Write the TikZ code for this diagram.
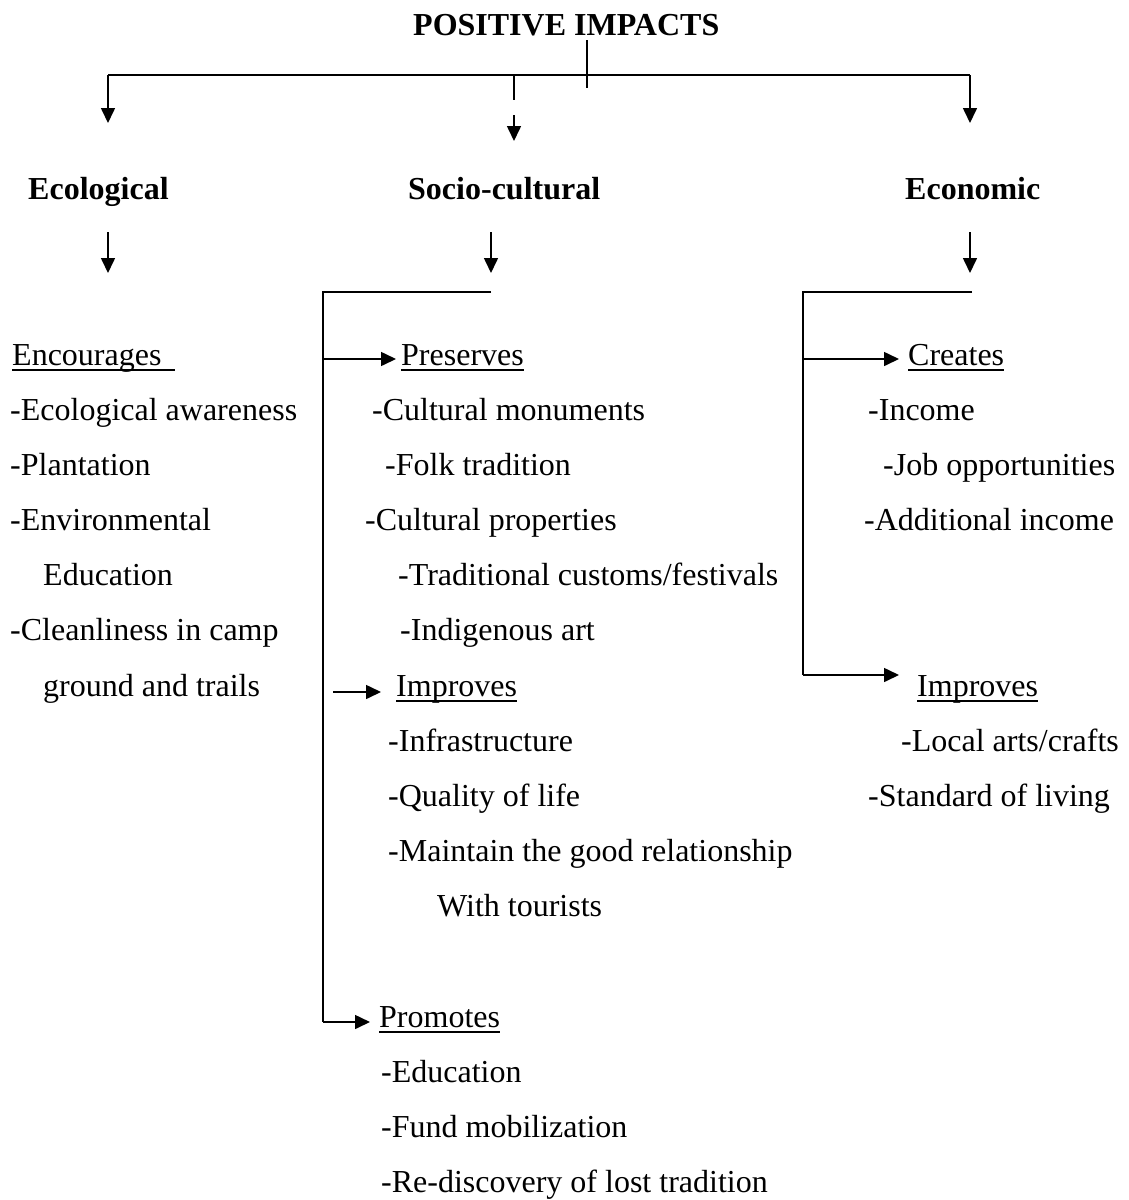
\documentclass[tikz,border=0pt]{standalone}
\usepackage{fontspec}
\setmainfont{Liberation Serif}
\usetikzlibrary{arrows.meta}
\begin{document}
\begin{tikzpicture}[x=1pt,y=-1pt,
  txt/.style={anchor=base west, inner sep=0pt, font=\fontsize{32}{38}\selectfont},
  hd/.style={anchor=base west, inner sep=0pt, font=\fontsize{32}{38}\selectfont\bfseries},
  ln/.style={line width=1.6pt, line cap=butt},
  arr/.style={ln, -{Triangle[length=15pt,width=14pt]}},
  ul/.style={line width=1.6pt}]
\fill[white] (0,0) rectangle (1128,1200);
\useasboundingbox (0,0) rectangle (1128,1200);

% title and headers
\node[hd] (title) at (413,35) {POSITIVE IMPACTS};
\node[hd] (eco) at (28,199) {Ecological};
\node[hd] (soc) at (408,199) {Socio-cultural};
\node[hd] (ecn) at (905,199) {Economic};

% top connectors
\coordinate (tA) at (587,40);
\coordinate (tB) at (587,88);
\coordinate (bL) at (108,75);
\coordinate (bM) at (514,75);
\coordinate (bR) at (970,75);
\coordinate (mA) at (514,100);
\coordinate (mB) at (514,115);
\coordinate (eL) at (108,123);
\coordinate (eM) at (514,141);
\coordinate (eR) at (970,123);
\draw[ln] (tA) -- (tB);
\draw[ln] (bL) -- (bR);
\draw[arr] (bL) -- (eL);
\draw[ln] (bM) -- (mA);
\draw[arr] (mB) -- (eM);
\draw[arr] (bR) -- (eR);

% arrows under headers
\coordinate (ecoA) at (108,232); \coordinate (ecoB) at (108,273);
\coordinate (socA) at (491,232); \coordinate (socB) at (491,273);
\coordinate (ecnA) at (970,232); \coordinate (ecnB) at (970,273);
\draw[arr] (ecoA) -- (ecoB);
\draw[arr] (socA) -- (socB);
\draw[arr] (ecnA) -- (ecnB);

% left column
\node[txt] (enc) at (12,365) {Encourages\ \ };
\draw[ul] ([yshift=-5pt]enc.base west) -- ([yshift=-5pt,xshift=5pt]enc.base east);
\node[txt] (l1) at (10,420) {-Ecological awareness};
\node[txt] (l2) at (10,475) {-Plantation};
\node[txt] (l3) at (10,530) {-Environmental};
\node[txt] (l4) at (43,585) {Education};
\node[txt] (l5) at (10,640) {-Cleanliness in camp};
\node[txt] (l6) at (43,696) {ground and trails};

% middle column
\node[txt] (pres) at (401,365) {Preserves\ };
\draw[ul] ([yshift=-5pt]pres.base west) -- ([yshift=-5pt]pres.base east);
\node[txt] (m1) at (372,420) {-Cultural monuments};
\node[txt] (m2) at (385,475) {-Folk tradition};
\node[txt] (m3) at (365,530) {-Cultural properties};
\node[txt] (m4) at (398,585) {-Traditional customs/festivals};
\node[txt] (m5) at (400,640) {-Indigenous art};
\node[txt] (imp1) at (396,696) {Improves};
\draw[ul] ([yshift=-5pt]imp1.base west) -- ([yshift=-5pt]imp1.base east);
\node[txt] (m6) at (388,751) {-Infrastructure};
\node[txt] (m7) at (388,806) {-Quality of life};
\node[txt] (m8) at (388,861) {-Maintain the good relationship};
\node[txt] (m9) at (437,916) {With tourists};
\node[txt] (prom) at (379,1027) {Promotes};
\draw[ul] ([yshift=-5pt]prom.base west) -- ([yshift=-5pt]prom.base east);
\node[txt] (m10) at (381,1082) {-Education};
\node[txt] (m11) at (381,1137) {-Fund mobilization};
\node[txt] (m12) at (381,1192) {-Re-discovery of lost tradition};

% right column
\node[txt] (cre) at (908,365) {Creates};
\draw[ul] ([yshift=-5pt]cre.base west) -- ([yshift=-5pt]cre.base east);
\node[txt] (r1) at (868,420) {-Income};
\node[txt] (r2) at (883,475) {-Job opportunities};
\node[txt] (r3) at (864,530) {-Additional income};
\node[txt] (imp2) at (917,696) {Improves};
\draw[ul] ([yshift=-5pt]imp2.base west) -- ([yshift=-5pt]imp2.base east);
\node[txt] (r4) at (901,751) {-Local arts/crafts};
\node[txt] (r5) at (868,806) {-Standard of living};

% socio-cultural bracket
\coordinate (sTop) at (491,292);
\coordinate (sCorner) at (323,292);
\coordinate (sBot) at (323,1022);
\coordinate (sPre) at (323,359);
\coordinate (sPreT) at (396,359);
\coordinate (sImpA) at (333,692);
\coordinate (sImpT) at (381,692);
\coordinate (sProT) at (370,1022);
\draw[ln] (sTop) -- (sCorner) -- (sBot);
\draw[arr] (sBot) -- (sProT);
\draw[arr] (sPre) -- (sPreT);
\draw[arr] (sImpA) -- (sImpT);

% economic bracket
\coordinate (eTop) at (972,292);
\coordinate (eCorner) at (803,292);
\coordinate (eBot) at (803,675);
\coordinate (eCre) at (803,359);
\coordinate (eCreT) at (899,359);
\coordinate (eImpT) at (899,675);
\draw[ln] (eTop) -- (eCorner) -- (eBot);
\draw[arr] (eBot) -- (eImpT);
\draw[arr] (eCre) -- (eCreT);
\end{tikzpicture}
\end{document}
